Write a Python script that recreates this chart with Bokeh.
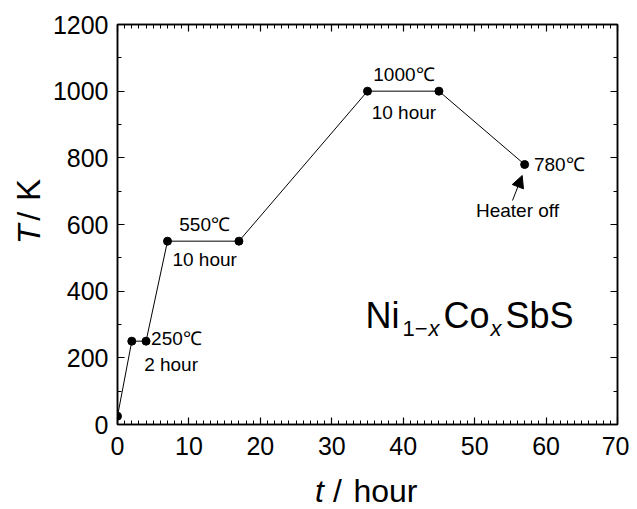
from bokeh.plotting import figure
from bokeh.layouts import column, row
from bokeh.models import (Range1d, LinearAxis, SingleIntervalTicker, Label,
                          Arrow, NormalHead, ColumnDataSource, CustomJSTickFormatter)
from bokeh.embed import file_html
from bokeh.resources import INLINE
import math

# ---- data ----
t_hour = [0, 2, 4, 7, 17, 35, 45, 57]
T_val = [25, 250, 250, 550, 550, 1000, 1000, 780]

ann_text = ["250℃", "2 hour", "550℃", "10 hour", "1000℃", "10 hour", "780℃", "Heater off"]
ann_x = [4.7, 7.5, 12.2, 12.2, 40.1, 40.1, 58.3, 56.0]
ann_y = [259, 179, 600, 494, 1050, 937, 780, 642]
ann_align = ["left", "center", "center", "center", "center", "center", "left", "center"]

FONT = "Liberation Sans"
LEFT_W = 48      # width of the strip holding the y-axis title
BOT_H = 40       # height of the strip holding the x-axis title

p = figure(frame_width=500, frame_height=400,
           min_border_left=117 - LEFT_W, min_border_right=12,
           min_border_top=24, min_border_bottom=85 - BOT_H,
           x_range=Range1d(0, 70), y_range=Range1d(0, 1200),
           output_backend="svg", toolbar_location=None,
           background_fill_color="white", border_fill_color="white")
p.xgrid.visible = False
p.ygrid.visible = False
p.outline_line_color = "black"
p.outline_line_width = 1.5

def style(ax, ticker, labels=True):
    ax.ticker = ticker
    ax.axis_line_width = 1.5
    ax.axis_line_color = "black"
    ax.major_tick_in = 7
    ax.major_tick_out = 0
    ax.minor_tick_in = 4
    ax.minor_tick_out = 0
    ax.major_tick_line_width = 1.2
    ax.minor_tick_line_width = 1
    ax.major_tick_line_color = "black"
    ax.minor_tick_line_color = "black"
    ax.axis_label = None
    if labels:
        ax.major_label_text_font = FONT
        ax.major_label_text_font_size = "25px"
        ax.major_label_text_color = "black"
    else:
        ax.formatter = CustomJSTickFormatter(code="return ''")
        ax.major_label_text_font_size = "8px"
        ax.major_label_standoff = 0

style(p.xaxis[0], SingleIntervalTicker(interval=10, num_minor_ticks=10))
p.xaxis[0].major_label_standoff = 12
style(p.yaxis[0], SingleIntervalTicker(interval=200, num_minor_ticks=2))
p.yaxis[0].major_label_standoff = 9

top = LinearAxis()
style(top, SingleIntervalTicker(interval=10, num_minor_ticks=10), labels=False)
p.add_layout(top, "above")
right = LinearAxis()
style(right, SingleIntervalTicker(interval=200, num_minor_ticks=2), labels=False)
p.add_layout(right, "right")

src = ColumnDataSource(data=dict(t=t_hour, T=T_val))
p.line("t", "T", source=src, line_color="black", line_width=1)
p.scatter("t", "T", source=src, size=8, fill_color="black", line_color="black")

for txt, x, y, al in zip(ann_text, ann_x, ann_y, ann_align):
    p.add_layout(Label(x=x, y=y, text=txt, text_align=al, text_baseline="middle",
                       text_font=FONT, text_font_size="19px", text_color="black"))

p.add_layout(Arrow(x_start=55.3, y_start=672, x_end=56.66, y_end=747,
                   line_color="black", line_width=1,
                   end=NormalHead(size=12, fill_color="black", line_color="black")))

# formula Ni1-xCoxSbS
fx, fy = 34.72, 327
pieces = [("Ni", 0, 0, "36px", "normal"),
          ("1−", 37, -13, "22px", "normal"),
          ("x", 63, -13, "22px", "italic"),
          ("Co", 78, 0, "36px", "normal"),
          ("x", 125, -13, "22px", "italic"),
          ("SbS", 140, 0, "36px", "normal")]
for txt, dx, dy, fs, st in pieces:
    p.add_layout(Label(x=fx, y=fy, x_offset=dx, y_offset=dy, text=txt,
                       text_align="left", text_baseline="alphabetic",
                       text_font=FONT, text_font_size=fs, text_font_style=st,
                       text_color="black"))

main_h = 24 + 400 + (85 - BOT_H)
main_w = (117 - LEFT_W) + 500 + 12

# strip for y-axis title "T / K" (pixel coordinates of the strip)
left_fig = figure(width=LEFT_W, height=main_h, min_border=0,
                  x_range=Range1d(0, LEFT_W), y_range=Range1d(0, main_h),
                  x_axis_type=None, y_axis_type=None,
                  output_backend="svg", toolbar_location=None)
left_fig.grid.visible = False
left_fig.outline_line_color = None
for txt, cy, st, fs in [("T", 246, "italic", "32px"), ("/", 225, "normal", "32px"),
                        ("K", 194, "normal", "33px")]:
    left_fig.add_layout(Label(x=28, y=main_h - cy, text=txt, angle=math.pi / 2,
                              text_align="center", text_baseline="middle",
                              text_font=FONT, text_font_size=fs,
                              text_font_style=st, text_color="black"))

# strip for x-axis title "t / hour"
bot_fig = figure(width=LEFT_W + main_w, height=BOT_H, min_border=0,
                 x_range=Range1d(0, LEFT_W + main_w), y_range=Range1d(0, BOT_H),
                 x_axis_type=None, y_axis_type=None,
                 output_backend="svg", toolbar_location=None)
bot_fig.grid.visible = False
bot_fig.outline_line_color = None
for txt, cx, st, fs in [("t", 319, "italic", "32px"), ("/", 337, "normal", "32px"),
                        ("hour", 385, "normal", "32px")]:
    bot_fig.add_layout(Label(x=cx, y=BOT_H - (490 - main_h), text=txt,
                             text_align="center", text_baseline="middle",
                             text_font=FONT, text_font_size=fs,
                             text_font_style=st, text_color="black"))

layout = column(row(left_fig, p), bot_fig)
open("out.html", "w").write(file_html(layout, INLINE))
